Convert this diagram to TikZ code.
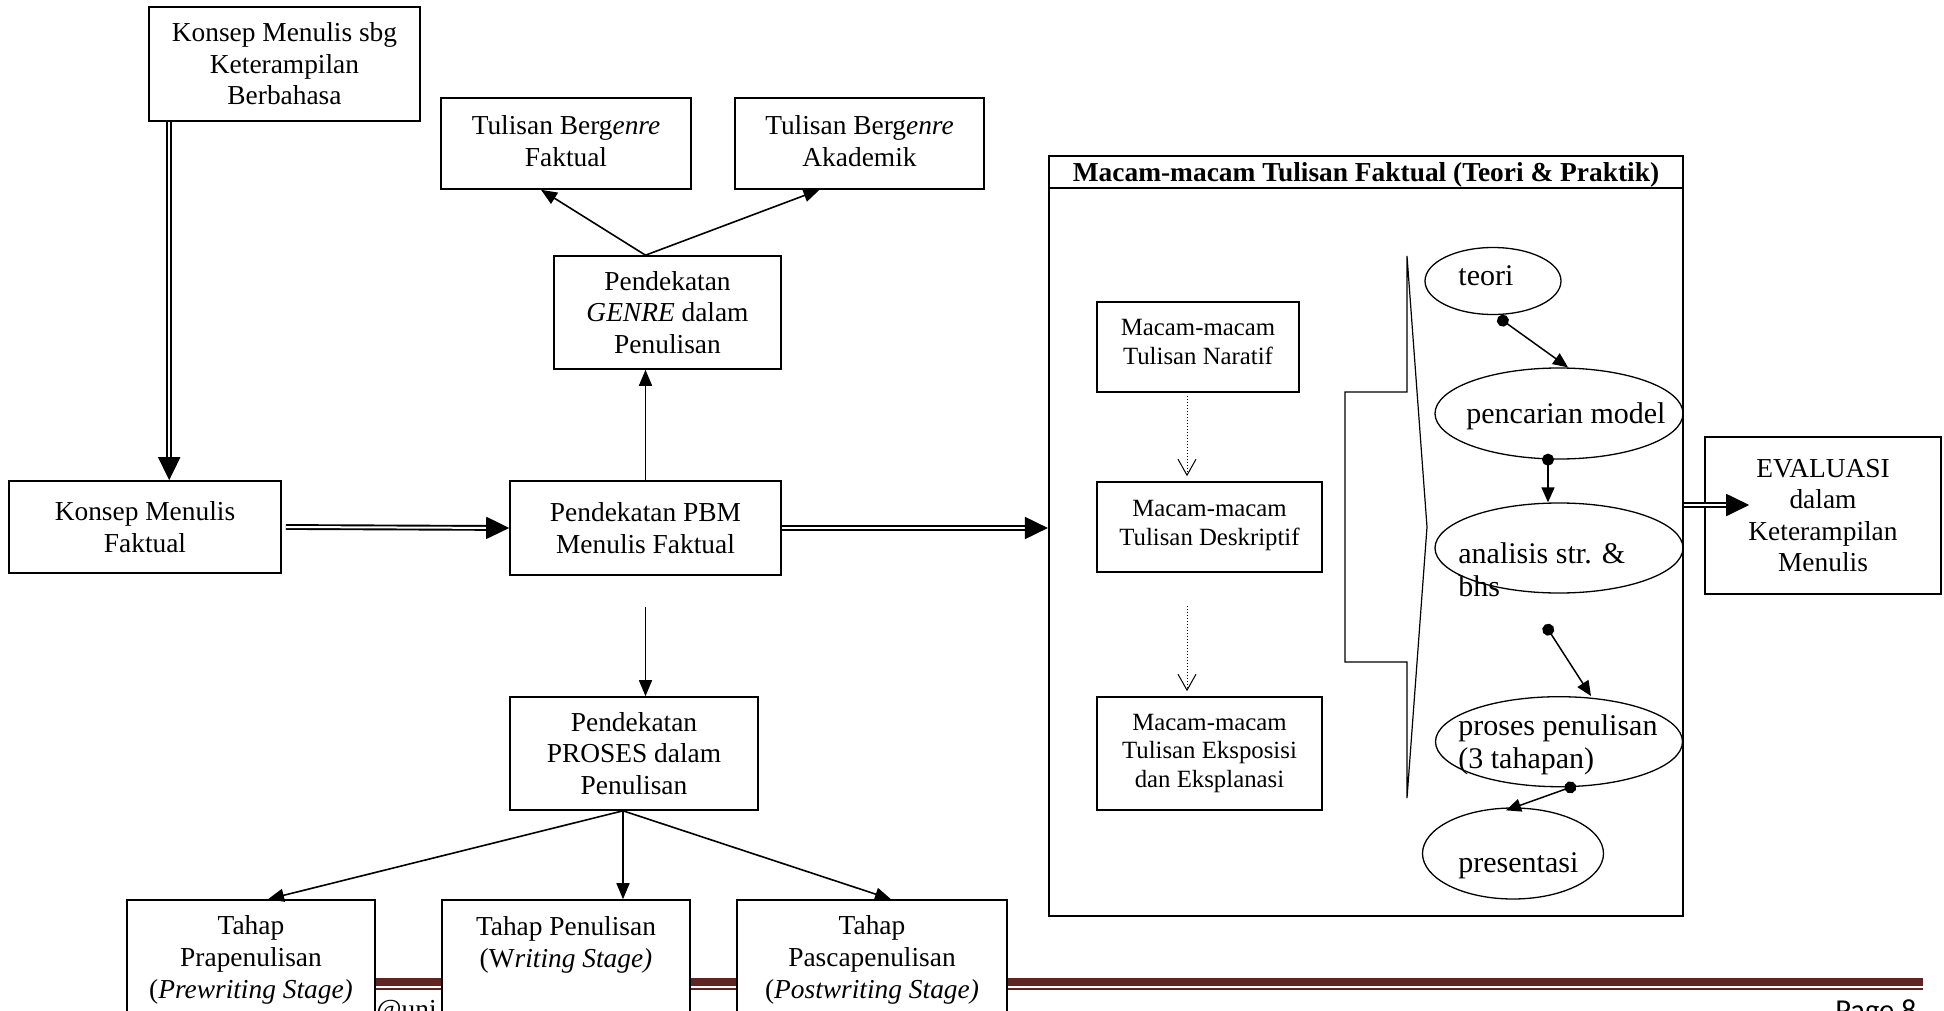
\documentclass[tikz,border=0pt]{standalone}
\usepackage{fontspec}
\setmainfont{Liberation Serif}
\newfontfamily\footfont{Carlito}
\usetikzlibrary{arrows.meta,shapes.geometric,calc}
\newcommand\FMain{\fontsize{13.7}{15.8}\selectfont}
\newcommand\FSmall{\fontsize{12.4}{14.2}\selectfont}
\newcommand\FEll{\fontsize{15}{16.5}\selectfont}
\definecolor{footred}{HTML}{622423}
\begin{document}
\begin{tikzpicture}[x=0.5pt,y=-0.5pt,
 box/.style={draw, line width=0.8pt, fill=white, inner sep=0pt, align=center, font=\FMain},
 sbox/.style={box, font=\FSmall},
 ell/.style={ellipse, draw, line width=0.65pt, inner sep=0pt},
 etext/.style={anchor=base west, inner sep=0pt, font=\FEll},
 dbl/.style={double, double distance=1pt, line width=0.95pt, -{Triangle[length=11.5pt,width=11pt]}},
 arr/.style={line width=0.8pt, -{Triangle[length=8pt,width=6.5pt]}},
 darr/.style={line width=0.75pt, {Circle[length=6pt]}-{Triangle[length=7.5pt,width=6.5pt]}},
 dotarr/.style={line width=0.5pt, densely dotted, -{Straight Barb[length=8pt,width=9pt]}}
]
\useasboundingbox (0,0) rectangle (1944,1011);
\fill[white] (0,0) rectangle (1944,1011);
\clip (0,0) rectangle (1944,1011);

% footer
\fill[footred] (140,978) rectangle (1923,985.5);
\fill[footred] (140,987.5) rectangle (1923,989.5);
\node[anchor=north west, inner sep=0pt, font=\FMain] (ftxt) at (376,1000) {@uni};
\node[anchor=base west, inner sep=0pt, font=\footfont\fontsize{15.2}{18}\selectfont] (page) at (1835,1020) {Page 8};

% left part
\node[box, minimum width=135.5pt, minimum height=57pt] (ksbg) at (284.5,64) {Konsep Menulis sbg\\Keterampilan\\Berbahasa};
\node[box, minimum width=125pt, minimum height=45.5pt] (tfak) at (566,143.5) {Tulisan Berg\textit{enre}\\Faktual\\[-13.3pt]};
\node[box, minimum width=124.5pt, minimum height=45.5pt] (takad) at (859.5,143.5) {Tulisan Berg\textit{enre}\\Akademik\\[-13.3pt]};
\node[box, minimum width=113.5pt, minimum height=56.5pt] (genre) at (667.5,312.5) {Pendekatan\\\textit{GENRE} dalam\\Penulisan};
\node[box, minimum width=136pt, minimum height=46pt] (kfak) at (145,527) {Konsep Menulis\\Faktual};
\node[box, minimum width=135.5pt, minimum height=47pt] (pbm) at (645.5,528) {Pendekatan PBM\\Menulis Faktual};
\node[box, minimum width=124pt, minimum height=56.5pt] (proses) at (634,753.5) {Pendekatan\\PROSES dalam\\Penulisan};
\node[box, minimum width=124pt, minimum height=60pt] (pra) at (251,960) {Tahap\\Prapenulisan\\(\textit{Prewriting Stage)}};
\node[box, minimum width=124.25pt, minimum height=60pt] (tulis) at (566,960) {Tahap Penulisan\\(W\textit{riting Stage)}\\[2pt]\mbox{}};
\node[box, minimum width=135pt, minimum height=60pt] (pasca) at (872,960) {Tahap\\Pascapenulisan\\(\textit{Postwriting Stage)}};

% macam container
\node[draw, line width=1.1pt, minimum width=317pt, minimum height=380pt, inner sep=0pt] (macam) at (1366,536) {};
\node[anchor=base, inner sep=0pt, font=\FMain\bfseries] (title) at (1366,182) {Macam-macam Tulisan Faktual (Teori \& Praktik)};
\draw[line width=0.8pt] ($(macam.north west)+(0,33)$) -- ($(macam.north east)+(0,33)$);
\node[sbox, minimum width=101pt, minimum height=45pt] (nar) at (1198,347) {Macam-macam\\Tulisan Naratif\\[-9pt]};
\node[sbox, minimum width=112.5pt, minimum height=45pt] (desk) at (1209.5,527) {Macam-macam\\Tulisan Deskriptif\\[-10pt]};
\node[sbox, minimum width=112.5pt, minimum height=56.5pt] (eksp) at (1209.5,753.5) {Macam-macam\\Tulisan Eksposisi\\dan Eksplanasi};
\draw[line width=0.6pt] (1407,256) -- (1427,527) -- (1407,798) -- (1407,662) -- (1345,662) -- (1345,392) -- (1407,392) -- cycle;

% ellipses
\node[ell, minimum width=68pt, minimum height=33.5pt] (teori) at (1493,281) {};
\node[ell, minimum width=124pt, minimum height=45.5pt] (penc) at (1559,413.5) {};
\node[ell, minimum width=124pt, minimum height=45pt] (anal) at (1559,548) {};
\node[ell, minimum width=123.5pt, minimum height=45pt] (proc) at (1559,741.7) {};
\node[ell, minimum width=90.5pt, minimum height=45.5pt] (pres) at (1513,853.5) {};
\node[etext] (t1) at (1458,285) {teori};
\node[etext] (t2) at (1466,423) {pencarian model};
\node[etext] (t3) at (1458,563) {analisis str. \&};
\node[etext] (t3b) at (1458,596) {bhs};
\node[etext] (t4) at (1458,735) {proses penulisan};
\node[etext] (t4b) at (1458,768) {(3 tahapan)};
\node[etext] (t5) at (1458,872) {presentasi};

% evaluasi
\node[box, minimum width=118pt, minimum height=78.5pt] (eval) at (1823,515.5) {EVALUASI\\dalam\\Keterampilan\\Menulis};

% connectors
\draw[dbl] ($(ksbg.south west)+(21,0)$) -- ($(kfak.north west)+(161,0)$);
\draw[dbl] ($(kfak.east)+(4,0)$) -- (pbm.west);
\draw[dbl] (pbm.east) -- (pbm.east -| macam.west);
\draw[dbl] ($(macam.east |- eval.west)+(0,-10.5)$) -- ($(eval.west)+(45,-10.5)$);
\draw[arr] (pbm.north) -- (pbm.north |- genre.south);
\draw[arr] (pbm.north |- genre.north) -- ($(tfak.south)+(-25,0)$);
\draw[arr] (pbm.north |- genre.north) -- ($(takad.south)+(-40,0)$);
\coordinate (pbmlow) at ($(pbm.south)+(0,31)$);
\draw[arr] (pbmlow) -- (pbmlow |- proses.north);
\coordinate (psrc) at ($(proses.south)+(-11,0)$);
\draw[arr] (psrc) -- ($(pra.north)+(17,0)$);
\draw[arr] (psrc) -- (psrc |- tulis.north);
\draw[arr] (psrc) -- ($(pasca.north)+(19,0)$);

\draw[dotarr] ($(nar.south)+(-11,3)$) -- ($(desk.north)+(-22.5,-5)$);
\draw[dotarr] ($(desk.south)+(-22.5,33)$) -- ($(eksp.north)+(-22.5,-5)$);

\draw[darr] ($(teori.south)+(5,2)$) -- ($(penc.north)+(9,0)$);
\draw[darr] ($(penc.south)+(-11,-6)$) -- ($(anal.north)+(-11,0)$);
\draw[darr] ($(anal.south)+(-14,31)$) -- ($(proc.north)+(32,0)$);
\draw[darr] ($(proc.south)+(17,-2)$) -- ($(pres.north)+(-7,3)$);
\end{tikzpicture}
\end{document}
